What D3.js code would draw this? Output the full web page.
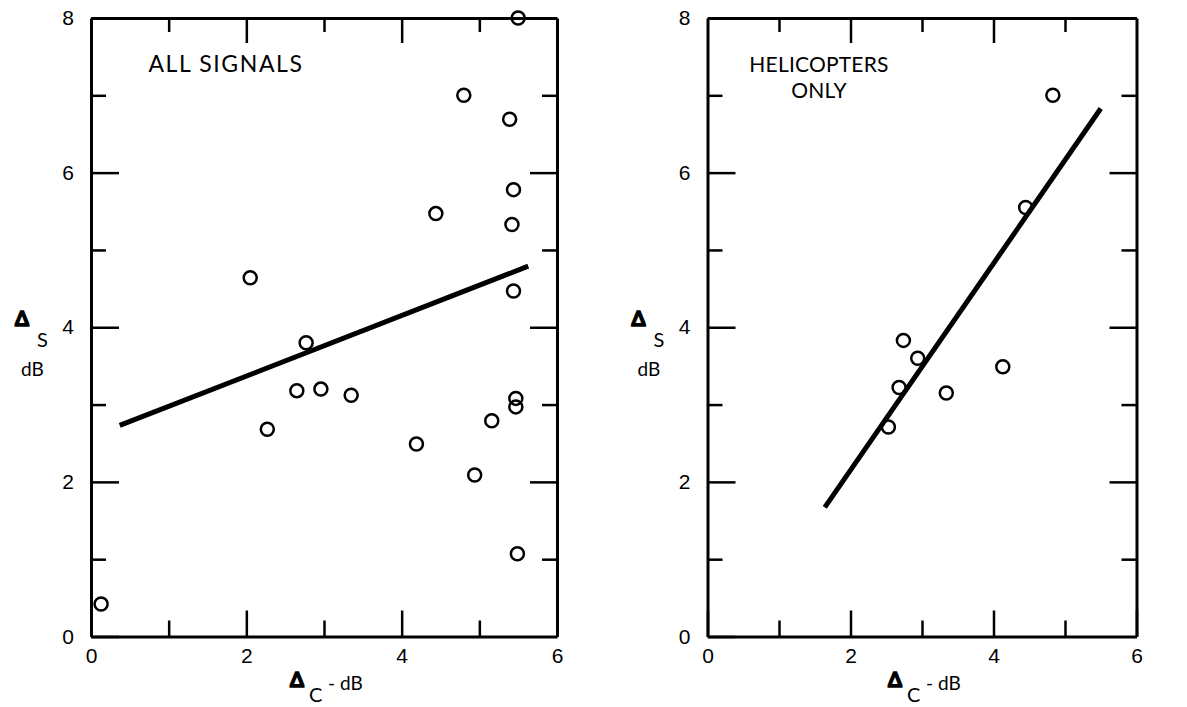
<!DOCTYPE html>
<html>
<head>
<meta charset="utf-8">
<script src="https://cdn.jsdelivr.net/npm/d3@7"></script>
<style>
  body { margin: 0; background: #fff; }
  svg { display: block; }
  .frame path.domain { stroke: #000; stroke-width: 3; }
  .frame .tick line { stroke: #000; stroke-width: 2.5; }
</style>
</head>
<body>
<svg id="chart" width="1187" height="707" font-family="Lato, 'Noto Sans', sans-serif"></svg>
<script>
// values
const allX = [5.50, 4.80, 5.39, 5.44, 4.44, 5.42, 2.05, 5.44, 2.77, 2.65, 2.96, 3.35, 5.47, 5.47, 2.27, 5.16, 4.19, 4.94, 5.49, 0.13];
const allY = [8.00, 7.00, 6.69, 5.78, 5.47, 5.33, 4.64, 4.47, 3.80, 3.18, 3.20, 3.12, 3.08, 2.97, 2.68, 2.79, 2.49, 2.09, 1.07, 0.42];
const allFitX = [0.37, 5.63];
const allFitY = [2.73, 4.79];

const heliX = [4.83, 4.45, 2.74, 2.94, 4.13, 2.68, 3.34, 2.53];
const heliY = [7.00, 5.55, 3.83, 3.60, 3.49, 3.22, 3.15, 2.71];
const heliFitX = [1.64, 5.50];
const heliFitY = [1.67, 6.83];

const xTickLabels = [0, 2, 4, 6];
const xMinorTicks = [1, 3, 5];
const yTickLabels = [0, 2, 4, 6, 8];
const yMinorTicks = [1, 3, 5, 7];

const svg = d3.select('#chart');
svg.append('rect').attr('width', 1187).attr('height', 707).attr('fill', '#fff');

const plotTop = 18, plotBottom = 636.5;
const fmt = d3.format('d');

const panels = [
  { left: 91, right: 557, xs: allX, ys: allY, fx: allFitX, fy: allFitY,
    title: ['ALL  SIGNALS'], noteX: 226, noteSize: 23, noteSpacing: 1.6 },
  { left: 707.5, right: 1136.5, xs: heliX, ys: heliY, fx: heliFitX, fy: heliFitY,
    title: ['HELICOPTERS', 'ONLY'], noteX: 819, noteSize: 21, noteSpacing: 0.2 }
];

const bigText = a => a.selectAll('text').attr('font-size', 21).attr('fill', '#000');

panels.forEach(p => {
  const x = d3.scaleLinear().domain([0, 6]).range([p.left, p.right]);
  const y = d3.scaleLinear().domain([0, 8]).range([plotBottom, plotTop]);
  const g = svg.append('g').attr('class', 'frame');

  // left axis with labels, inward ticks
  g.append('g').attr('transform', `translate(${p.left},0)`)
    .call(d3.axisLeft(y).tickValues(yTickLabels).tickFormat(fmt).tickSizeInner(-28).tickSizeOuter(0).tickPadding(17))
    .call(bigText);
  g.append('g').attr('transform', `translate(${p.left},0)`)
    .call(d3.axisLeft(y).tickValues(yMinorTicks).tickSizeInner(-15).tickSizeOuter(0).tickFormat(''))
    .call(a => a.select('.domain').remove());

  // right axis, ticks pointing in
  g.append('g').attr('transform', `translate(${p.right},0)`)
    .call(d3.axisRight(y).tickValues(yTickLabels.slice(1, -1)).tickSizeInner(-27).tickSizeOuter(0).tickFormat(''));
  g.append('g').attr('transform', `translate(${p.right},0)`)
    .call(d3.axisRight(y).tickValues(yMinorTicks).tickSizeInner(-15).tickSizeOuter(0).tickFormat(''))
    .call(a => a.select('.domain').remove());

  // bottom axis with labels
  g.append('g').attr('transform', `translate(0,${plotBottom})`)
    .call(d3.axisBottom(x).tickValues(xTickLabels).tickFormat(fmt).tickSizeInner(-26).tickSizeOuter(0).tickPadding(12))
    .call(bigText);
  g.append('g').attr('transform', `translate(0,${plotBottom})`)
    .call(d3.axisBottom(x).tickValues(xMinorTicks).tickSizeInner(-16).tickSizeOuter(0).tickFormat(''))
    .call(a => a.select('.domain').remove());

  // top axis
  g.append('g').attr('transform', `translate(0,${plotTop})`)
    .call(d3.axisTop(x).tickValues(xTickLabels.slice(1, -1)).tickSizeInner(-25).tickSizeOuter(0).tickFormat(''));
  g.append('g').attr('transform', `translate(0,${plotTop})`)
    .call(d3.axisTop(x).tickValues(xMinorTicks).tickSizeInner(-14).tickSizeOuter(0).tickFormat(''))
    .call(a => a.select('.domain').remove());

  // fitted line
  svg.append('line')
    .attr('x1', x(p.fx[0])).attr('y1', y(p.fy[0]))
    .attr('x2', x(p.fx[1])).attr('y2', y(p.fy[1]))
    .attr('stroke', '#000').attr('stroke-width', 5);

  // data points
  svg.append('g').selectAll('circle')
    .data(p.xs.map((v, i) => [v, p.ys[i]]))
    .join('circle')
    .attr('cx', d => x(d[0])).attr('cy', d => y(d[1]))
    .attr('r', 6.5)
    .attr('fill', 'none').attr('stroke', '#000').attr('stroke-width', 2.5);

  // panel note
  const note = svg.append('text').attr('text-anchor', 'middle')
    .attr('font-size', p.noteSize).attr('letter-spacing', p.noteSpacing).attr('fill', '#000');
  p.title.forEach((t, i) => {
    note.append('tspan').attr('x', p.noteX).attr('y', 72 + i * 26).text(t);
  });

  // y label
  const yl = svg.append('g').attr('transform', `translate(${p.left - 76},0)`);
  yl.append('text').attr('x', 0).attr('y', 326).attr('font-size', 20).attr('font-weight', 'bold')
    .attr('stroke', '#000').attr('stroke-width', 1.5).text('Δ');
  yl.append('text').attr('x', 22).attr('y', 347).attr('font-size', 20).text('S');
  yl.append('text').attr('x', 6).attr('y', 376).attr('font-size', 19).text('dB');

  // x label
  const xl = svg.append('g').attr('transform', `translate(${x(3) - 34},0)`);
  xl.append('text').attr('x', 0).attr('y', 687).attr('font-size', 20).attr('font-weight', 'bold')
    .attr('stroke', '#000').attr('stroke-width', 1.5).text('Δ');
  xl.append('text').attr('x', 19).attr('y', 702).attr('font-size', 20).text('C');
  xl.append('text').attr('x', 38).attr('y', 690).attr('font-size', 19).text('- dB');
});
</script>
</body>
</html>
